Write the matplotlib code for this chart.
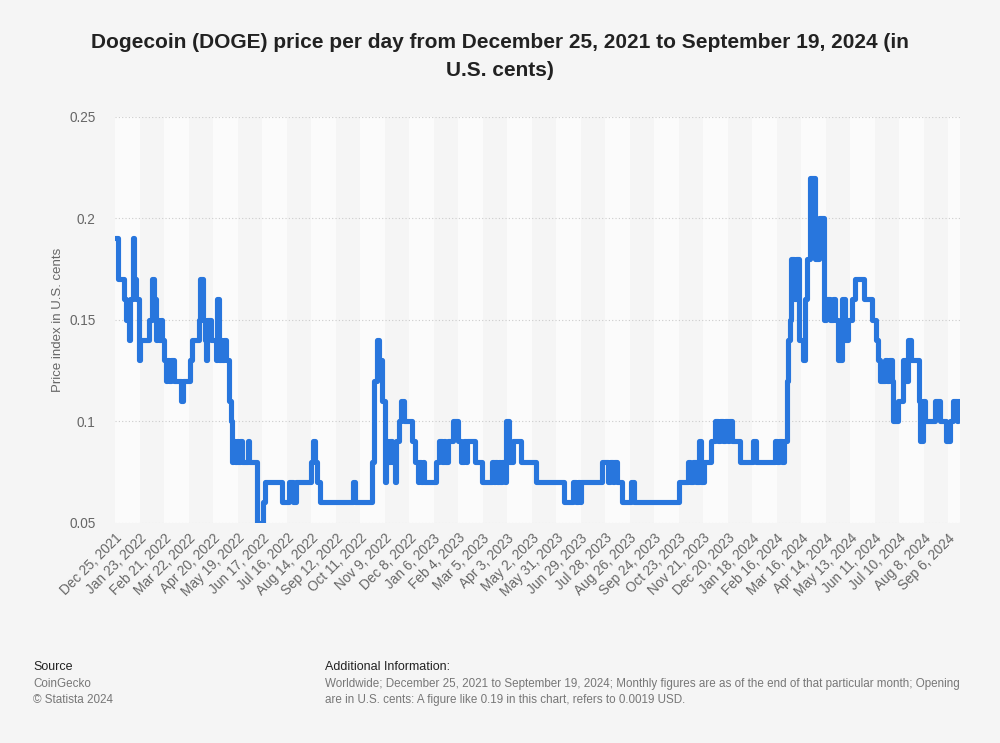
import numpy as np
import pandas as pd
import matplotlib
matplotlib.use('Agg')
import matplotlib.pyplot as plt

plt.rcParams['font.family'] = ['Liberation Sans', 'DejaVu Sans']

# change points: days after Dec 25, 2021 and the price from that day on
change_day = [0, 3, 11, 13, 16, 18, 21, 23, 25, 28, 30, 40, 44, 46, 48, 50, 52, 54, 56, 58,
              60, 62, 64, 66, 70, 78, 81, 89, 91, 99, 101, 104, 106, 108, 109, 114, 119, 121,
              123, 125, 127, 129, 131, 135, 137, 138, 140, 142, 144, 146, 148, 150, 157, 159,
              168, 175, 178, 198, 206, 211, 214, 232, 234, 237, 239, 243, 282, 284, 304, 306,
              310, 313, 316, 319, 321, 323, 325, 328, 331, 333, 336, 339, 342, 352, 355, 358,
              360, 362, 364, 366, 380, 384, 387, 389, 391, 394, 400, 406, 410, 413, 415, 417,
              426, 434, 446, 448, 450, 452, 454, 456, 458, 461, 463, 466, 471, 480, 498, 531,
              542, 546, 548, 550, 552, 576, 584, 586, 589, 591, 594, 600, 611, 614, 667, 678,
              681, 684, 688, 691, 694, 697, 705, 710, 714, 716, 719, 722, 725, 727, 730, 740,
              755, 759, 781, 784, 786, 789, 792, 795, 797, 799, 800, 804, 806, 810, 814, 817,
              819, 822, 828, 833, 839, 842, 846, 850, 852, 856, 860, 864, 868, 872, 876, 886,
              896, 901, 903, 905, 911, 914, 916, 919, 921, 927, 932, 936, 939, 942, 951, 953,
              956, 959, 970, 976, 984, 988, 992, 996, 998, 999]
price = [0.19, 0.17, 0.16, 0.15, 0.14, 0.16, 0.19, 0.17, 0.16, 0.13, 0.14, 0.15, 0.17, 0.16,
         0.14, 0.15, 0.14, 0.15, 0.14, 0.13, 0.12, 0.13, 0.12, 0.13, 0.12, 0.11, 0.12, 0.13,
         0.14, 0.15, 0.17, 0.15, 0.14, 0.13, 0.15, 0.14, 0.13, 0.16, 0.13, 0.14, 0.13, 0.14,
         0.13, 0.11, 0.10, 0.08, 0.09, 0.08, 0.09, 0.08, 0.09, 0.08, 0.09, 0.08, 0.05, 0.06,
         0.07, 0.06, 0.07, 0.06, 0.07, 0.08, 0.09, 0.08, 0.07, 0.06, 0.07, 0.06, 0.08, 0.12,
         0.14, 0.13, 0.11, 0.07, 0.09, 0.08, 0.09, 0.08, 0.07, 0.09, 0.10, 0.11, 0.10, 0.09,
         0.08, 0.07, 0.08, 0.07, 0.08, 0.07, 0.08, 0.09, 0.08, 0.09, 0.08, 0.09, 0.10, 0.09,
         0.08, 0.09, 0.08, 0.09, 0.08, 0.07, 0.08, 0.07, 0.08, 0.07, 0.08, 0.07, 0.08, 0.07,
         0.10, 0.08, 0.09, 0.08, 0.07, 0.06, 0.07, 0.06, 0.07, 0.06, 0.07, 0.08, 0.07, 0.08,
         0.07, 0.08, 0.07, 0.06, 0.07, 0.06, 0.07, 0.08, 0.07, 0.08, 0.07, 0.09, 0.07, 0.08,
         0.09, 0.10, 0.09, 0.10, 0.09, 0.10, 0.09, 0.10, 0.09, 0.08, 0.09, 0.08, 0.09, 0.08,
         0.09, 0.08, 0.09, 0.12, 0.14, 0.15, 0.18, 0.16, 0.18, 0.14, 0.13, 0.16, 0.18, 0.22,
         0.18, 0.20, 0.15, 0.16, 0.15, 0.16, 0.15, 0.13, 0.16, 0.14, 0.15, 0.16, 0.17, 0.16,
         0.15, 0.14, 0.13, 0.12, 0.13, 0.12, 0.13, 0.12, 0.10, 0.11, 0.13, 0.12, 0.14, 0.13,
         0.11, 0.09, 0.11, 0.10, 0.11, 0.10, 0.09, 0.10, 0.11, 0.10, 0.11, 0.11]

start = pd.Timestamp('2021-12-25')
end = pd.Timestamp('2024-09-19')
tick_dates = pd.date_range(start, periods=35, freq='29D')
y_ticks = [0.05, 0.1, 0.15, 0.2, 0.25]
y_labels = ['0.05', '0.1', '0.15', '0.2', '0.25']

bg = '#f5f5f5'
fig = plt.figure(figsize=(10, 7.43), dpi=100, facecolor=bg)
ax = fig.add_axes([0.115, 0.2965, 0.845, 0.5465])
ax.set_facecolor(bg)

# alternating column bands
bounds = list(tick_dates) + [end + pd.Timedelta(days=1)]
for i in range(len(bounds) - 1):
    if i % 2 == 0:
        ax.axvspan(bounds[i], bounds[i + 1], color='#fbfbfb', lw=0, zorder=0)

dates = start + pd.to_timedelta(change_day, unit='D')
ax.plot(dates, price, drawstyle='steps-post', color='#2876dd', lw=3.7,
        solid_joinstyle='round', solid_capstyle='round', zorder=3)

ax.set_xlim(start, end + pd.Timedelta(days=1))
ax.set_ylim(0.05, 0.25)
ax.set_yticks(y_ticks)
ax.set_yticklabels(y_labels)
ax.yaxis.grid(True, color='#cccccc', linestyle=(0, (1, 2)), lw=0.8, zorder=1)
ax.set_xticks(tick_dates)
ax.set_xticklabels([d.strftime('%b ') + str(d.day) + d.strftime(', %Y') for d in tick_dates],
                   rotation=45, ha='right', rotation_mode='anchor')
ax.tick_params(axis='both', length=0, colors='#666666', labelsize=9.8)
ax.tick_params(axis='x', pad=6)
ax.tick_params(axis='y', pad=14)
for s in ax.spines.values():
    s.set_visible(False)
ax.set_ylabel('Price index in U.S. cents', color='#666666', fontsize=9.5, labelpad=4)

fig.text(0.5, 0.955, 'Dogecoin (DOGE) price per day from December 25, 2021 to September 19, 2024 (in\nU.S. cents)',
         ha='center', va='top', fontsize=15, fontweight='bold', color='#222222', linespacing=1.6)

fig.text(0.033, 0.098, 'Source', fontsize=9, color='#222222')
fig.text(0.033, 0.0755, 'CoinGecko', fontsize=8.4, color='#777777')
fig.text(0.033, 0.054, '\u00a9 Statista 2024', fontsize=8.4, color='#777777')
fig.text(0.325, 0.098, 'Additional Information:', fontsize=9, color='#222222')
fig.text(0.325, 0.0755, 'Worldwide; December 25, 2021 to September 19, 2024; Monthly figures are as of the end of that particular month; Opening',
         fontsize=8.4, color='#777777')
fig.text(0.325, 0.054, 'are in U.S. cents: A figure like 0.19 in this chart, refers to 0.0019 USD.',
         fontsize=8.4, color='#777777')

fig.savefig('out.png', dpi=100, facecolor=bg)
